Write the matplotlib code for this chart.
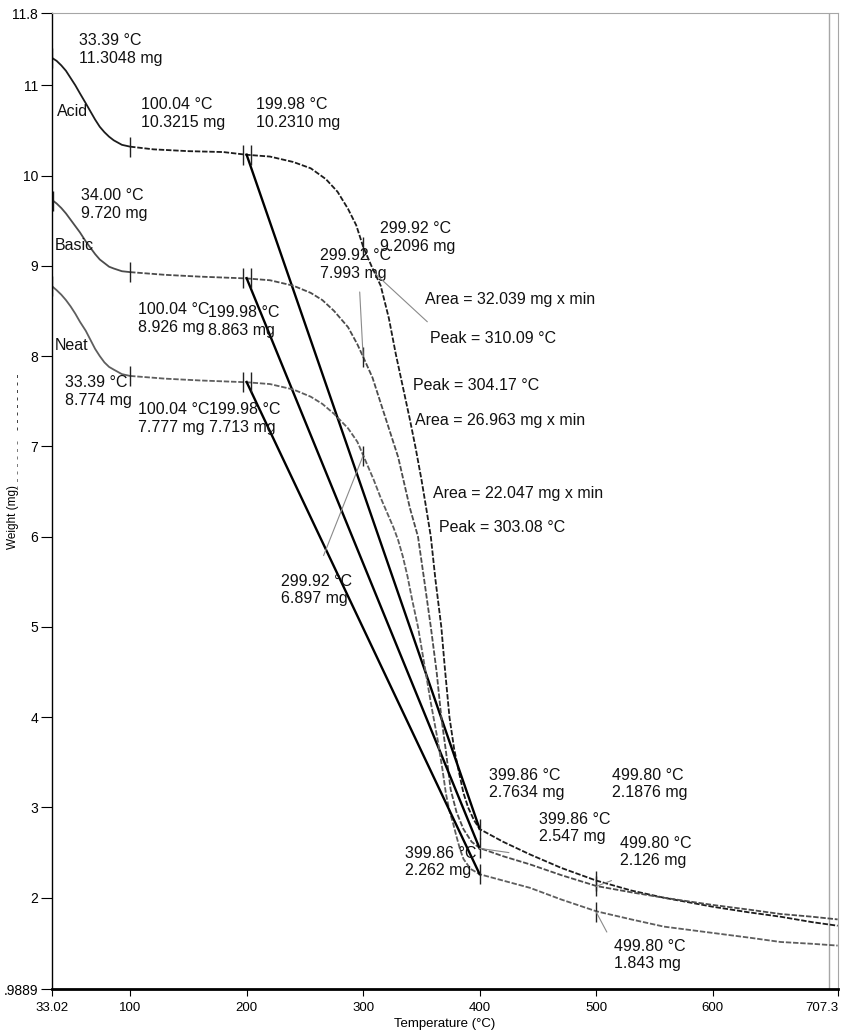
import numpy as np
import matplotlib.pyplot as plt
from matplotlib.path import Path

plt.rcParams['font.family'] = ['Liberation Sans', 'DejaVu Sans']

# TGA curves (temperature in °C, weight in mg)
acid_T = [33.39, 37, 41, 45, 49, 53, 57, 62, 66, 70, 74, 78, 82, 86, 93, 100, 120, 150, 180,
          200, 220, 240, 255, 268, 278, 287, 294, 300, 307, 315, 322, 328, 334, 340, 345, 350,
          354, 358, 362, 367, 370, 374, 378, 382, 386, 390, 395, 400, 420, 443, 470, 500, 530,
          558, 600, 630, 658, 685, 707]
acid_W = [11.30, 11.27, 11.22, 11.16, 11.08, 11.00, 10.91, 10.80, 10.71, 10.62, 10.54, 10.48,
          10.43, 10.39, 10.34, 10.32, 10.29, 10.27, 10.26, 10.23, 10.21, 10.15, 10.08, 9.96,
          9.82, 9.63, 9.45, 9.21, 9.00, 8.78, 8.42, 8.02, 7.66, 7.30, 6.98, 6.63, 6.32, 6.00,
          5.52, 5.00, 4.55, 4.00, 3.65, 3.40, 3.16, 3.00, 2.86, 2.76, 2.62, 2.48, 2.33, 2.19,
          2.08, 2.00, 1.90, 1.84, 1.79, 1.73, 1.69]

basic_T = [34.00, 37, 41, 45, 49, 53, 57, 62, 66, 70, 74, 78, 82, 86, 93, 100, 130, 160, 200,
           220, 240, 255, 265, 275, 287, 295, 300, 308, 315, 322, 330, 335, 340, 347, 352, 358,
           363, 367, 371, 375, 380, 386, 393, 400, 420, 443, 470, 500, 530, 558, 600, 630, 658,
           685, 707]
basic_W = [9.72, 9.69, 9.64, 9.58, 9.51, 9.44, 9.37, 9.27, 9.20, 9.13, 9.07, 9.03, 8.99, 8.97,
           8.94, 8.93, 8.90, 8.88, 8.86, 8.84, 8.78, 8.70, 8.62, 8.50, 8.32, 8.13, 7.99, 7.76,
           7.48, 7.20, 6.88, 6.60, 6.32, 6.00, 5.55, 5.00, 4.50, 4.00, 3.62, 3.20, 2.95, 2.76,
           2.62, 2.55, 2.46, 2.37, 2.25, 2.13, 2.06, 2.00, 1.92, 1.87, 1.82, 1.79, 1.76]

neat_T = [33.39, 37, 41, 45, 49, 53, 57, 62, 66, 70, 74, 78, 82, 86, 93, 100, 130, 160, 200,
          220, 240, 255, 265, 275, 287, 295, 300, 309, 315, 322, 326, 330, 334, 338, 342, 347,
          352, 358, 364, 368, 371, 374, 377, 380, 383, 386, 392, 400, 420, 443, 470, 500, 530,
          558, 600, 630, 658, 685, 707]
neat_W = [8.77, 8.73, 8.68, 8.62, 8.55, 8.47, 8.38, 8.28, 8.18, 8.08, 8.00, 7.93, 7.88, 7.85,
          7.80, 7.78, 7.75, 7.73, 7.71, 7.69, 7.63, 7.55, 7.47, 7.36, 7.20, 7.05, 6.90, 6.63,
          6.43, 6.22, 6.10, 5.96, 5.78, 5.56, 5.30, 5.00, 4.62, 4.16, 3.74, 3.42, 3.15, 2.96,
          2.83, 2.68, 2.54, 2.43, 2.32, 2.26, 2.19, 2.11, 1.98, 1.85, 1.76, 1.68, 1.61, 1.56,
          1.51, 1.49, 1.47]

# marked points
acid_mark_T = [33.39, 100.04, 199.98, 299.92, 399.86, 499.80]
acid_mark_W = [11.3048, 10.3215, 10.2310, 9.2096, 2.7634, 2.1876]
basic_mark_T = [34.00, 100.04, 199.98, 299.92, 399.86, 499.80]
basic_mark_W = [9.720, 8.926, 8.863, 7.993, 2.547, 2.126]
neat_mark_T = [33.39, 100.04, 199.98, 299.92, 399.86, 499.80]
neat_mark_W = [8.774, 7.777, 7.713, 6.897, 2.262, 1.843]

peaks = [310.09, 304.17, 303.08]
areas = [32.039, 26.963, 22.047]
names = ['Acid', 'Basic', 'Neat']

x_ticks = [33.02, 100, 200, 300, 400, 500, 600, 707.3]
x_ticklabels = ['33.02', '100', '200', '300', '400', '500', '600', '707.3']
y_ticks = [0.9889, 2, 3, 4, 5, 6, 7, 8, 9, 10, 11, 11.8]
y_ticklabels = ['.9889', '2', '3', '4', '5', '6', '7', '8', '9', '10', '11', '11.8']

fig = plt.figure(figsize=(8.51, 10.34), dpi=100)
ax = fig.add_axes([0.0611, 0.0435, 0.9236, 0.9439])

series = [
    (acid_T, acid_W, acid_mark_T, acid_mark_W, 4, '#1c1c1c'),
    (basic_T, basic_W, basic_mark_T, basic_mark_W, 3, '#4c4c4c'),
    (neat_T, neat_W, neat_mark_T, neat_mark_W, 3, '#5e5e5e'),
]

# text positions (top-left of each label block) for the six marked points
label_pos = [
    [(56.3, 11.574), (109.4, 10.866), (208.0, 10.866), (314.3, 9.493), (407.8, 3.439), (513.2, 3.439)],
    [(58.0, 9.858), (106.9, 8.597), (166.9, 8.563), (262.9, 9.194), (450.6, 2.952), (520.1, 2.686)],
    [(44.3, 7.789), (106.9, 7.490), (167.7, 7.490), (229.4, 5.586), (335.7, 2.576), (514.9, 1.546)],
]
name_pos = [(37.4, 10.79), (35.7, 9.305), (35.7, 8.198)]
peak_pos = [(357.2, 8.275), (342.6, 7.755), (364.9, 6.184)]
area_pos = [(352.9, 8.707), (344.3, 7.368), (359.8, 6.560)]

double_tick = Path([(-0.35, -1), (-0.35, 1), (0.35, -1), (0.35, 1)],
                   [Path.MOVETO, Path.LINETO, Path.MOVETO, Path.LINETO])

fs = 11.5
for i, (T, W, mT, mW, dec, col) in enumerate(series):
    T = np.array(T)
    W = np.array(W)
    k = np.searchsorted(T, 100) + 1
    ax.plot(T[:k], W[:k], color=col, lw=1.3)
    ax.plot(T[k - 1:], W[k - 1:], color=col, lw=1.3, dashes=(3, 1))
    # chord between 200 and 400 °C points
    ax.plot([mT[2], mT[4]], [mW[2], mW[4]], color='black', lw=1.7)
    # tick marks on the curve
    single = [0, 1, 3, 4, 5]
    ax.plot([mT[j] for j in single], [mW[j] for j in single], ls='none',
            marker='|', ms=15, mew=1.0, color='#222222')
    ax.plot([mT[2]], [mW[2]], ls='none', marker=double_tick, ms=15, mew=1.0,
            color='#222222', fillstyle='none')
    for j in range(len(mT)):
        x, y = label_pos[i][j]
        ax.text(x, y, f'{mT[j]:.2f} °C\n{mW[j]:.{dec}f} mg', fontsize=fs,
                va='top', ha='left', linespacing=1.2, color='#111111')
    ax.text(*name_pos[i], names[i], fontsize=fs, va='top', ha='left', color='#111111')
    ax.text(*peak_pos[i], f'Peak = {peaks[i]:.2f} °C', fontsize=fs, va='top', ha='left',
            color='#111111')
    ax.text(*area_pos[i], f'Area = {areas[i]:.3f} mg x min', fontsize=fs, va='top',
            ha='left', color='#111111')

# thin leader lines from labels to points
leader = dict(arrowstyle='-', color='#8a8a8a', lw=0.8, shrinkA=0, shrinkB=0)
ax.annotate('', xy=(peaks[0], np.interp(peaks[0], acid_T, acid_W)), xytext=(355, 8.38),
            arrowprops=leader)
ax.annotate('', xy=(basic_mark_T[3], basic_mark_W[3]), xytext=(297, 8.71), arrowprops=leader)
ax.annotate('', xy=(neat_mark_T[3], neat_mark_W[3]), xytext=(266, 5.79), arrowprops=leader)
ax.annotate('', xy=(basic_mark_T[4], basic_mark_W[4]), xytext=(425, 2.50), arrowprops=leader)
ax.annotate('', xy=(basic_mark_T[5], basic_mark_W[5]), xytext=(513, 2.19), arrowprops=leader)
ax.annotate('', xy=(neat_mark_T[5], neat_mark_W[5]), xytext=(509, 1.62), arrowprops=leader)

ax.set_xlim(x_ticks[0], x_ticks[-1])
ax.set_ylim(y_ticks[0], y_ticks[-1])
ax.set_xticks(x_ticks)
ax.set_xticklabels(x_ticklabels, fontsize=9.5)
ax.get_xticklabels()[-1].set_horizontalalignment('right')
ax.set_yticks(y_ticks)
ax.set_yticklabels(y_ticklabels, fontsize=10)
ax.set_xticks(x_ticks[1:-1] + [700], minor=True)
ax.set_yticks(y_ticks[1:-1], minor=True)
ax.grid(which='minor', color='#a6a6a6', lw=1.0)
ax.tick_params(which='minor', length=0)
ax.tick_params(axis='x', which='major', direction='out', length=5, pad=4)
ax.tick_params(axis='y', which='major', direction='out', length=8, pad=2)
ax.set_axisbelow(True)

for s in ['top', 'right']:
    ax.spines[s].set_color('#a6a6a6')
ax.spines['bottom'].set_linewidth(2.0)
ax.spines['left'].set_linewidth(1.0)

ax.set_xlabel('Temperature (°C)', fontsize=9.5, labelpad=3)
ax.set_ylabel('Weight (mg)', fontsize=8.5)
ax.yaxis.set_label_coords(-0.042, 0.4836)
# dashed line samples next to the axis title
ax.text(-0.042, 0.602, '- - - - - - - -', transform=ax.transAxes, rotation=90, fontsize=9,
        ha='center', va='center', color='#222222', clip_on=False)
ax.text(-0.042, 0.537, '- - - - - - -', transform=ax.transAxes, rotation=90, fontsize=9,
        ha='center', va='center', color='#666666', clip_on=False)

fig.savefig('out.png', dpi=100)
